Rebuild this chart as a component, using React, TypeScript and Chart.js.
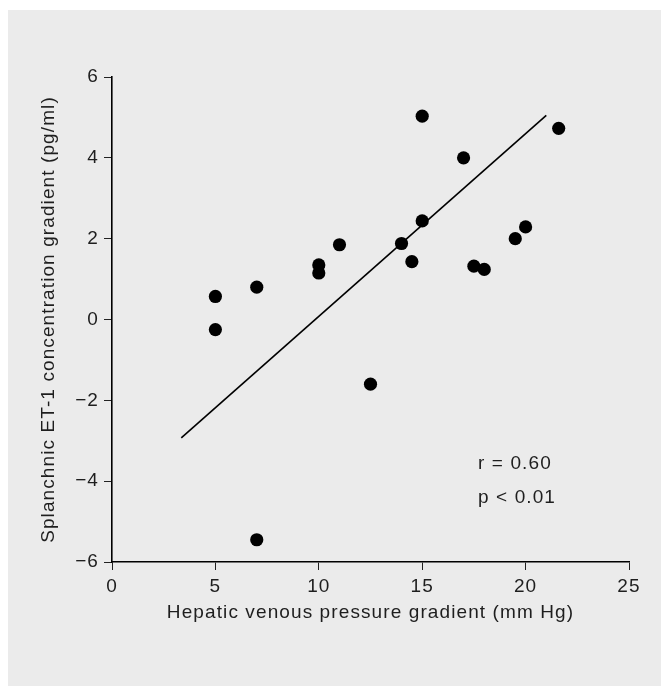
import { useEffect, useRef } from 'react';
import { Chart, registerables } from 'chart.js';

Chart.register(...registerables);

// Hepatic venous pressure gradient (mm Hg)
const hvpg = [5, 5, 7, 7, 10, 10, 11, 12.5, 14, 14.5, 15, 15, 17, 17.5, 18, 19.5, 20, 21.6];
// Splanchnic ET-1 concentration gradient (pg/ml)
const et1 = [0.57, -0.25, 0.8, -5.45, 1.35, 1.15, 1.85, -1.6, 1.88, 1.43, 2.44, 5.03, 4.0, 1.32, 1.24, 2.0, 2.29, 4.73];
// regression line end points
const fitX = [3.35, 21];
const fitY = [-2.93, 5.05];
const xTicks = [0, 5, 10, 15, 20, 25];
const yTicks = [-6, -4, -2, 0, 2, 4, 6];
const statLines = ['r = 0.60', 'p < 0.01'];
const statX = 17.7;
const statY = [-3.57, -4.41];
const xTitle = 'Hepatic venous pressure gradient (mm Hg)';
const yTitle = 'Splanchnic ET-1 concentration gradient (pg/ml)';

const FONT = "'Liberation Sans', Arial, sans-serif";
const TEXT = '#1e1e1e';
const SPACING = '1.1px';

const fmt = (v: number) => (v < 0 ? '\u2212' + Math.abs(v) : String(v));

export default function App() {
  const ref = useRef<HTMLCanvasElement | null>(null);
  useEffect(() => {
    const canvas = ref.current;
    if (!canvas) return;
    const bgPlugin = {
      id: 'bgAndStats',
      beforeDraw(chart: any) {
        const ctx = chart.ctx;
        ctx.save();
        ctx.fillStyle = '#ffffff';
        ctx.fillRect(0, 0, chart.width, chart.height);
        ctx.fillStyle = '#ebebeb';
        ctx.fillRect(8, 10, chart.width - 8, chart.height - 10);
        ctx.restore();
        (ctx as any).letterSpacing = SPACING;
      },
      afterDatasetsDraw(chart: any) {
        const ctx = chart.ctx;
        const xs = chart.scales.x;
        const ys = chart.scales.y;
        ctx.save();
        (ctx as any).letterSpacing = SPACING;
        ctx.fillStyle = TEXT;
        ctx.font = `19px ${FONT}`;
        ctx.textAlign = 'left';
        ctx.textBaseline = 'middle';
        statLines.forEach((t, i) => {
          ctx.fillText(t, xs.getPixelForValue(statX), ys.getPixelForValue(statY[i]));
        });
        ctx.restore();
      },
    };
    const chart = new Chart(canvas, {
      type: 'scatter',
      data: {
        datasets: [
          {
            data: hvpg.map((x, i) => ({ x, y: et1[i] })),
            backgroundColor: '#000000',
            borderWidth: 0,
            pointRadius: 6.6,
            pointHoverRadius: 6.6,
          },
          {
            type: 'line',
            data: fitX.map((x, i) => ({ x, y: fitY[i] })),
            borderColor: '#000000',
            borderWidth: 1.6,
            pointRadius: 0,
            showLine: true,
            fill: false,
          } as any,
        ],
      },
      options: {
        responsive: false,
        animation: false,
        events: [],
        layout: { padding: { left: 0, top: 77, right: 32, bottom: 0 } },
        plugins: { legend: { display: false }, tooltip: { enabled: false } },
        scales: {
          x: {
            type: 'linear',
            min: 0,
            max: 25,
            afterBuildTicks: (s: any) => {
              s.ticks = xTicks.map((v) => ({ value: v }));
            },
            afterFit: (s: any) => {
              s.height = 124;
            },
            grid: { drawOnChartArea: false, drawTicks: true, tickLength: 8, color: '#222', lineWidth: 1 },
            border: { display: true, color: '#000', width: 1.6 },
            ticks: {
              padding: 5,
              color: TEXT,
              font: { family: FONT, size: 19 },
              callback: (v: any) => fmt(Number(v)),
              maxRotation: 0,
              autoSkip: false,
            },
            title: {
              display: true,
              text: xTitle,
              color: TEXT,
              font: { family: FONT, size: 19 },
              padding: { top: 0, bottom: 62 },
            },
          },
          y: {
            type: 'linear',
            min: -6,
            max: 6,
            afterBuildTicks: (s: any) => {
              s.ticks = yTicks.map((v) => ({ value: v }));
            },
            afterFit: (s: any) => {
              s.width = 112;
            },
            grid: { drawOnChartArea: false, drawTicks: true, tickLength: 8, color: '#222', lineWidth: 1 },
            border: { display: true, color: '#000', width: 1.6 },
            ticks: {
              padding: 5,
              color: TEXT,
              font: { family: FONT, size: 19 },
              callback: (v: any) => fmt(Number(v)),
              autoSkip: false,
            },
            title: {
              display: true,
              text: yTitle,
              color: TEXT,
              font: { family: FONT, size: 19 },
              padding: { top: 37, bottom: 0 },
            },
          },
        },
      },
      plugins: [bgPlugin],
    });
    return () => chart.destroy();
  }, []);
  return (
    <div style={{ position: 'fixed', left: 0, top: 0, width: 661, height: 686 }}>
      <canvas ref={ref} width={661} height={686} style={{ display: 'block', width: 661, height: 686 }} />
    </div>
  );
}
